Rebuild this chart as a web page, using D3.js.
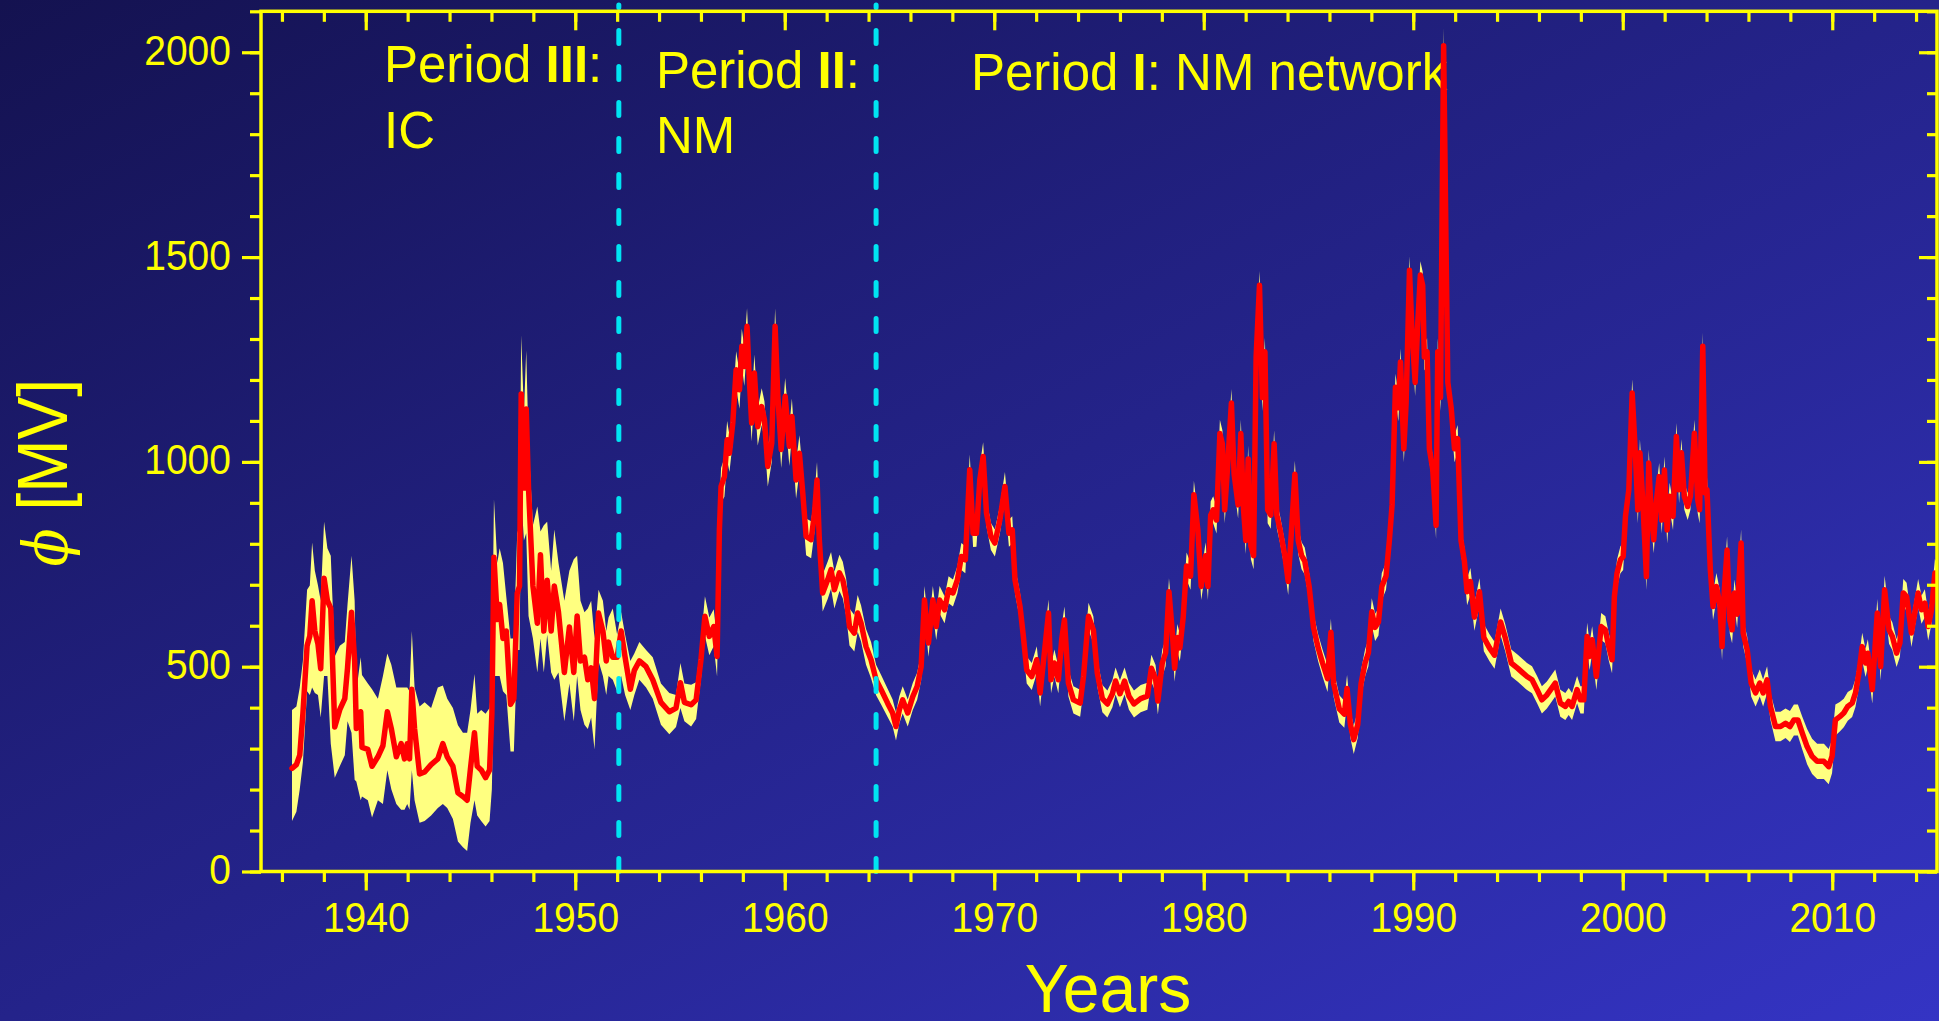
<!DOCTYPE html>
<html>
<head>
<meta charset="utf-8">
<script src="https://cdn.jsdelivr.net/npm/d3@7"></script>
<style>
  html, body { margin: 0; padding: 0; overflow: hidden; background: #1f1e74; }
  svg { display: block; }
  text { white-space: pre; }
</style>
</head>
<body>
<svg id="chart" width="1939" height="1021"></svg>
<script>
// Modulation potential phi (MV): monthly-resolution reconstruction with its uncertainty band.
const years = [
  1936.48,1936.69,1936.85,1937.00,1937.20,1937.33,1937.44,1937.57,1937.72,1937.85,
  1938.01,1938.17,1938.33,1938.52,1938.76,1939.00,1939.13,1939.32,1939.47,1939.55,
  1939.76,1939.82,1940.10,1940.30,1940.58,1940.82,1941.03,1941.22,1941.46,1941.69,
  1941.85,1941.98,1942.09,1942.20,1942.33,1942.57,1942.81,1943.12,1943.44,1943.68,
  1943.89,1944.16,1944.40,1944.64,1944.84,1945.00,1945.19,1945.32,1945.51,1945.72,
  1945.91,1946.02,1946.12,1946.28,1946.39,1946.55,1946.71,1946.91,1947.07,1947.23,
  1947.34,1947.42,1947.55,1947.66,1947.77,1947.98,1948.19,1948.34,1948.50,1948.66,
  1948.85,1949.00,1949.20,1949.48,1949.72,1949.93,1950.09,1950.25,1950.44,1950.60,
  1950.76,1950.92,1951.11,1951.32,1951.48,1951.59,1951.79,1952.00,1952.19,1952.38,
  1952.63,1952.82,1953.06,1953.38,1953.70,1954.09,1954.49,1954.81,1955.02,1955.21,
  1955.53,1955.77,1956.00,1956.19,1956.40,1956.61,1956.77,1956.88,1956.96,1957.12,
  1957.25,1957.36,1957.52,1957.68,1957.84,1957.95,1958.07,1958.20,1958.31,1958.42,
  1958.55,1958.71,1958.90,1959.03,1959.19,1959.38,1959.54,1959.67,1959.83,1960.02,
  1960.22,1960.34,1960.54,1960.70,1960.86,1961.02,1961.26,1961.42,1961.54,1961.65,
  1961.81,1962.05,1962.21,1962.37,1962.61,1962.77,1962.93,1963.09,1963.32,1963.48,
  1963.64,1963.88,1964.12,1964.36,1964.60,1964.91,1965.15,1965.31,1965.47,1965.63,
  1965.87,1966.11,1966.32,1966.51,1966.67,1966.86,1967.07,1967.23,1967.39,1967.63,
  1967.82,1968.03,1968.24,1968.43,1968.62,1968.83,1968.99,1969.15,1969.31,1969.47,
  1969.63,1969.84,1970.03,1970.27,1970.51,1970.70,1970.86,1970.99,1971.23,1971.39,
  1971.55,1971.79,1972.03,1972.19,1972.39,1972.59,1972.71,1972.87,1973.06,1973.22,
  1973.35,1973.54,1973.78,1974.10,1974.26,1974.50,1974.73,1974.92,1975.16,1975.40,
  1975.64,1975.79,1976.00,1976.22,1976.43,1976.67,1976.99,1977.31,1977.50,1977.70,
  1977.81,1978.02,1978.18,1978.34,1978.50,1978.61,1978.74,1978.86,1979.02,1979.18,
  1979.37,1979.53,1979.72,1979.88,1980.09,1980.20,1980.33,1980.45,1980.61,1980.77,
  1980.89,1981.00,1981.13,1981.32,1981.45,1981.64,1981.77,1981.90,1982.01,1982.12,
  1982.25,1982.38,1982.50,1982.66,1982.80,1982.92,1983.05,1983.20,1983.36,1983.49,
  1983.65,1983.87,1984.03,1984.19,1984.35,1984.51,1984.67,1984.82,1985.03,1985.24,
  1985.46,1985.67,1985.91,1986.07,1986.20,1986.47,1986.71,1986.84,1987.00,1987.16,
  1987.35,1987.51,1987.70,1987.86,1988.02,1988.18,1988.34,1988.50,1988.70,1988.86,
  1988.99,1989.15,1989.29,1989.39,1989.55,1989.66,1989.82,1989.93,1990.09,1990.22,
  1990.34,1990.45,1990.53,1990.66,1990.77,1990.93,1991.09,1991.17,1991.30,1991.45,
  1991.57,1991.65,1991.81,1991.97,1992.12,1992.28,1992.44,1992.57,1992.73,1992.92,
  1993.16,1993.37,1993.64,1993.88,1994.17,1994.39,1994.68,1994.99,1995.23,1995.43,
  1995.67,1995.91,1996.14,1996.38,1996.78,1997.02,1997.26,1997.42,1997.58,1997.82,
  1997.98,1998.14,1998.30,1998.42,1998.54,1998.74,1998.97,1999.17,1999.33,1999.49,
  1999.60,1999.73,1999.89,2000.02,2000.13,2000.29,2000.45,2000.61,2000.72,2000.82,
  2000.97,2001.13,2001.24,2001.35,2001.48,2001.61,2001.74,2001.86,2001.99,2002.12,
  2002.24,2002.40,2002.56,2002.69,2002.80,2002.94,2003.10,2003.23,2003.42,2003.58,
  2003.67,2003.82,2003.93,2004.02,2004.18,2004.31,2004.47,2004.63,2004.74,2004.85,
  2004.98,2005.11,2005.22,2005.33,2005.46,2005.65,2005.75,2005.94,2006.13,2006.34,
  2006.54,2006.70,2006.89,2007.05,2007.29,2007.53,2007.77,2007.98,2008.17,2008.36,
  2008.57,2008.80,2009.04,2009.28,2009.60,2009.83,2009.99,2010.15,2010.36,2010.55,
  2010.74,2010.95,2011.11,2011.27,2011.43,2011.59,2011.70,2011.91,2012.15,2012.31,
  2012.50,2012.71,2012.87,2013.07,2013.23,2013.39,2013.55,2013.78,2013.94,2014.10,
  2014.26,2014.42,2014.58,2014.74,2014.90,2015.00
];

const phi = [
  252,261,284,385,551,575,661,587,555,495,
  716,661,643,353,395,422,497,633,514,349,
  390,303,298,257,280,307,390,349,280,312,
  275,312,275,445,349,238,243,261,275,312,
  280,257,192,183,174,252,339,257,248,229,
  248,385,767,615,652,569,587,408,422,679,
  697,1166,936,1129,936,697,606,773,587,711,
  587,697,633,486,597,486,624,514,523,468,
  497,422,631,587,514,560,523,523,587,523,
  445,491,514,500,468,413,390,399,461,413,
  407,419,517,623,574,598,525,834,940,964,
  1054,1021,1095,1225,1176,1282,1233,1331,1200,1095,
  1217,1086,1135,1103,989,1046,1331,1160,1030,1160,
  1038,1111,956,1021,924,818,810,875,956,810,
  680,712,737,688,729,712,671,598,582,631,
  607,549,517,468,444,411,387,354,395,419,
  387,427,452,500,663,558,663,598,663,639,
  688,680,712,769,761,981,826,826,956,1013,
  875,818,802,859,940,826,834,712,647,574,
  492,476,517,436,533,631,468,509,468,566,
  614,460,419,411,476,623,590,484,422,409,
  434,465,434,465,428,409,422,428,496,471,
  416,509,534,683,584,496,571,546,621,746,
  721,920,833,696,771,696,870,883,858,1069,
  1044,883,982,1144,970,895,1069,883,808,1007,
  795,771,1256,1431,1157,1269,883,870,1044,870,
  833,771,708,833,970,808,771,758,696,596,
  546,509,471,584,459,397,384,447,359,322,
  359,459,509,534,634,596,609,696,721,808,
  895,1182,1132,1244,1032,1144,1468,1331,1194,1343,
  1456,1431,1256,1269,1032,982,845,1269,1157,2016,
  1505,1194,1132,1032,1057,808,758,683,708,621,
  683,571,546,528,609,571,509,496,485,476,
  468,444,419,431,460,411,403,415,403,444,
  419,419,574,525,566,476,598,590,549,517,
  671,729,761,769,867,932,1168,1013,883,1022,
  891,720,997,883,810,907,964,858,980,834,
  916,867,1062,932,1022,916,891,916,1070,907,
  883,1282,924,932,737,647,696,655,549,688,
  785,614,590,680,628,802,582,541,460,436,
  460,436,468,403,354,354,362,354,370,370,
  338,305,281,269,269,256,281,370,378,387,
  403,411,436,484,549,509,533,444,631,500,
  688,590,574,533,558,680,671,582,631,680,
  639,655,598,639,729,720
];

const phiLow = [
  123,146,201,266,440,431,449,436,431,376,
  477,477,312,229,257,284,367,339,224,220,
  174,183,174,132,174,165,247,201,165,151,
  151,165,151,247,174,119,123,137,155,165,
  155,128,73,59,50,119,174,137,123,110,
  123,201,477,477,477,440,431,293,293,541,
  541,918,808,826,624,569,486,569,486,578,
  486,468,486,367,459,367,477,394,358,348,
  376,298,514,477,431,477,468,440,477,431,
  394,431,468,449,422,358,335,353,399,367,
  354,372,470,575,528,550,476,790,900,915,
  1005,975,1050,1180,1130,1235,1185,1285,1150,1050,
  1170,1040,1090,1055,940,1000,1285,1115,985,1115,
  990,1065,910,975,878,772,765,830,910,765,
  635,665,690,642,685,667,625,552,537,585,
  562,505,472,430,408,377,354,320,362,386,
  354,394,419,466,628,524,630,565,630,606,
  655,647,679,736,728,945,792,793,922,978,
  842,785,769,826,906,793,800,679,614,541,
  459,443,484,403,500,598,435,476,435,533,
  581,427,386,378,443,590,557,451,389,376,
  401,432,401,432,395,376,389,395,463,438,
  383,476,501,650,551,463,538,513,588,713,
  688,886,800,663,738,663,837,850,825,1035,
  1011,850,949,1110,937,862,1035,850,775,974,
  762,738,1222,1397,1124,1235,850,837,1011,837,
  800,738,675,800,937,775,738,725,663,563,
  513,476,438,551,426,364,351,414,326,287,
  326,426,476,501,601,563,576,663,688,775,
  862,1149,1099,1211,999,1111,1434,1298,1161,1310,
  1422,1398,1223,1236,999,949,812,1236,1124,1980,
  1470,1161,1099,999,1024,775,725,650,675,588,
  650,538,513,495,576,538,476,463,452,443,
  435,411,386,398,427,378,370,382,370,411,
  386,386,541,492,533,443,565,557,516,484,
  638,696,728,736,834,899,1134,980,850,989,
  858,687,964,850,777,874,931,825,947,801,
  883,834,1029,899,989,883,858,883,1037,874,
  850,1248,891,899,704,614,663,622,516,655,
  752,581,557,647,595,769,549,508,427,403,
  427,403,435,370,318,318,326,316,332,332,
  298,262,238,226,226,213,240,332,342,352,
  368,377,402,450,515,475,499,410,597,466,
  654,556,540,499,524,646,637,548,597,646,
  605,621,564,605,695,686
];

const phiHigh = [
  394,403,449,514,688,698,803,734,698,661,
  854,789,771,525,551,560,652,771,661,440,
  523,480,459,445,422,477,532,505,449,449,
  449,449,440,587,449,403,413,399,449,454,
  422,399,357,339,339,394,482,385,394,385,
  399,477,909,753,789,753,670,569,569,826,
  845,1309,1120,1272,1047,845,891,830,845,854,
  734,835,753,661,734,762,771,661,633,642,
  661,569,688,661,587,620,642,578,633,578,
  514,532,560,541,523,459,436,431,509,459,
  456,462,560,672,620,640,565,880,985,1010,
  1100,1065,1140,1270,1220,1325,1280,1375,1245,1140,
  1262,1130,1180,1148,1035,1090,1375,1205,1075,1205,
  1085,1155,1000,1065,970,862,855,920,1000,855,
  725,757,780,732,773,756,715,642,626,675,
  650,592,560,505,480,446,420,388,428,452,
  420,460,485,533,697,591,697,631,697,672,
  721,713,745,802,794,1018,859,859,990,1048,
  908,851,835,892,975,859,867,745,680,607,
  525,509,550,469,566,664,501,542,501,599,
  647,493,452,444,509,656,623,517,455,442,
  467,498,467,498,461,442,455,461,529,504,
  449,542,567,716,617,529,604,579,654,779,
  754,954,866,729,804,729,903,916,891,1103,
  1077,916,1015,1178,1003,928,1103,916,841,1040,
  828,804,1290,1466,1190,1303,916,903,1077,903,
  866,804,741,866,1003,841,804,791,729,629,
  579,542,504,617,492,430,417,480,392,356,
  392,492,542,567,667,629,642,729,754,841,
  928,1215,1165,1277,1065,1177,1502,1364,1227,1376,
  1490,1464,1289,1302,1065,1015,878,1302,1190,2060,
  1540,1227,1165,1065,1090,841,791,716,741,654,
  716,604,579,561,642,604,542,529,518,509,
  501,477,452,464,493,444,436,448,436,477,
  452,452,607,558,599,509,631,623,582,550,
  704,762,794,802,900,965,1202,1046,916,1055,
  924,753,1030,916,843,940,997,891,1013,867,
  949,900,1095,965,1055,949,924,949,1103,940,
  916,1316,957,965,770,680,729,688,582,721,
  818,647,623,713,661,835,615,574,493,469,
  493,469,501,436,390,390,398,392,408,408,
  378,348,324,312,312,299,322,408,414,422,
  438,445,470,518,583,543,567,478,665,534,
  722,624,608,567,592,714,705,616,665,714,
  673,689,632,673,763,754
];

// Boundaries between the measurement periods (ionisation chamber / neutron monitors)
const periodBounds = [1952.08, 1964.36];
const periodLabels = [
  { year: 1940.87, phi: 1927, parts: [["Period "], ["III", true], [":"]] },
  { year: 1940.87, phi: 1766, parts: [["IC"]] },
  { year: 1953.85, phi: 1913, parts: [["Period "], ["II", true], [":"]] },
  { year: 1953.85, phi: 1755, parts: [["NM"]] },
  { year: 1968.89, phi: 1909, parts: [["Period "], ["I", true], [": NM network"]] }
];

const majorYears = [1940, 1950, 1960, 1970, 1980, 1990, 2000, 2010];
const majorPhi = [0, 500, 1000, 1500, 2000];

const W = 1939, H = 1021;
const plot = { left: 261, right: 1937, top: 11.3, bottom: 871.5 };
const YELLOW = "#ffff00";
const FONT = "'Liberation Sans', Arial, Helvetica, sans-serif";

const x = d3.scaleLinear().domain([1935, 2015]).range([plot.left, plot.right]);
const y = d3.scaleLinear().domain([0, 2100]).range([plot.bottom, plot.top]);

const svg = d3.select("#chart");
const defs = svg.append("defs");

// diagonal background gradient, dark navy to bright blue
const grad = defs.append("linearGradient").attr("id", "bg")
  .attr("x1", 0).attr("y1", 0).attr("x2", 1).attr("y2", 1);
grad.append("stop").attr("offset", 0).attr("stop-color", "#141250");
grad.append("stop").attr("offset", 1).attr("stop-color", "#3434c4");
svg.append("rect").attr("width", W).attr("height", H).attr("fill", "url(#bg)");

defs.append("clipPath").attr("id", "plotClip").append("rect")
  .attr("x", plot.left).attr("y", plot.top)
  .attr("width", plot.right - plot.left).attr("height", plot.bottom - plot.top);

// period annotations
periodLabels.forEach(l => {
  const t = svg.append("text")
    .attr("x", x(l.year)).attr("y", y(l.phi))
    .attr("font-family", FONT).attr("font-size", 51).attr("fill", YELLOW);
  l.parts.forEach(([s, bold]) => {
    t.append("tspan").attr("font-weight", bold ? "bold" : null).text(s);
  });
});

// uncertainty band and mean curve
const series = years.map((yr, i) => ({ yr, v: phi[i], lo: phiLow[i], hi: phiHigh[i] }));
const dataG = svg.append("g").attr("clip-path", "url(#plotClip)");

dataG.append("path").datum(series)
  .attr("fill", "#ffff80")
  .attr("d", d3.area().x(d => x(d.yr)).y0(d => y(d.lo)).y1(d => y(d.hi)));

dataG.append("path").datum(series)
  .attr("fill", "none").attr("stroke", "#ff0000").attr("stroke-width", 5.5)
  .attr("stroke-linejoin", "round").attr("stroke-linecap", "round")
  .attr("d", d3.line().x(d => x(d.yr)).y(d => y(d.v)));

// dashed period boundaries
svg.selectAll("line.period").data(periodBounds).join("line")
  .attr("class", "period")
  .attr("x1", d => x(d)).attr("x2", d => x(d))
  .attr("y1", 5).attr("y2", plot.bottom)
  .attr("stroke", "#00e4f2").attr("stroke-width", 5)
  .attr("stroke-linecap", "round")
  .attr("stroke-dasharray", "13 23").attr("stroke-dashoffset", 10.5);

// axes
function finish(g) {
  g.select(".domain").remove();
  g.attr("color", YELLOW).attr("font-family", FONT).attr("font-size", 39);
  g.selectAll(".tick line").attr("stroke-width", 3.2);
  return g;
}
const minorYears = d3.range(1936, 2015, 2);
const minorPhi = d3.range(0, 2101, 100);

// bottom
finish(svg.append("g").attr("transform", `translate(0,${plot.bottom})`)
  .call(d3.axisBottom(x).tickValues(minorYears).tickSize(10.5).tickSizeOuter(0).tickFormat("")));
const gBottom = finish(svg.append("g").attr("transform", `translate(0,${plot.bottom})`)
  .call(d3.axisBottom(x).tickValues(majorYears).tickSize(19).tickSizeOuter(0).tickFormat(d3.format("d"))));
gBottom.selectAll(".tick text")
  .attr("y", 61 / 1.1).attr("dy", null).attr("transform", "scale(1,1.1)");

// top (ticks inward)
finish(svg.append("g").attr("transform", `translate(0,${plot.top})`)
  .call(d3.axisTop(x).tickValues(minorYears).tickSize(-10.5).tickSizeOuter(0).tickFormat("")));
finish(svg.append("g").attr("transform", `translate(0,${plot.top})`)
  .call(d3.axisTop(x).tickValues(majorYears).tickSize(-19).tickSizeOuter(0).tickFormat("")));

// left
finish(svg.append("g").attr("transform", `translate(${plot.left},0)`)
  .call(d3.axisLeft(y).tickValues(minorPhi).tickSize(11).tickSizeOuter(0).tickFormat("")));
const gLeft = finish(svg.append("g").attr("transform", `translate(${plot.left},0)`)
  .call(d3.axisLeft(y).tickValues(majorPhi).tickSize(19).tickPadding(11).tickSizeOuter(0).tickFormat(d3.format("d"))));
gLeft.selectAll(".tick text")
  .attr("y", 12 / 1.1).attr("dy", null).attr("transform", "scale(1,1.1)");

// right (ticks inward)
finish(svg.append("g").attr("transform", `translate(${plot.right},0)`)
  .call(d3.axisRight(y).tickValues(minorPhi).tickSize(-10).tickSizeOuter(0).tickFormat("")));
finish(svg.append("g").attr("transform", `translate(${plot.right},0)`)
  .call(d3.axisRight(y).tickValues(majorPhi).tickSize(-18).tickSizeOuter(0).tickFormat("")));

// frame
svg.append("rect")
  .attr("x", plot.left).attr("y", plot.top)
  .attr("width", plot.right - plot.left).attr("height", plot.bottom - plot.top)
  .attr("fill", "none").attr("stroke", YELLOW).attr("stroke-width", 3.5);

// axis titles
svg.append("text")
  .attr("transform", "translate(1108,1012) scale(1,1.05)")
  .attr("text-anchor", "middle")
  .attr("font-family", FONT).attr("font-size", 66).attr("fill", YELLOW)
  .text("Years");

const yTitle = svg.append("text")
  .attr("transform", "translate(67,379) rotate(-90) scale(1,1.09)")
  .attr("text-anchor", "end")
  .attr("font-family", FONT).attr("font-size", 64).attr("fill", YELLOW);
yTitle.append("tspan")
  .attr("font-family", "'DejaVu Serif', 'Liberation Serif', serif")
  .attr("font-style", "italic").attr("font-size", 56).text("\u03D5");
yTitle.append("tspan").text(" [MV]");
</script>
</body>
</html>
